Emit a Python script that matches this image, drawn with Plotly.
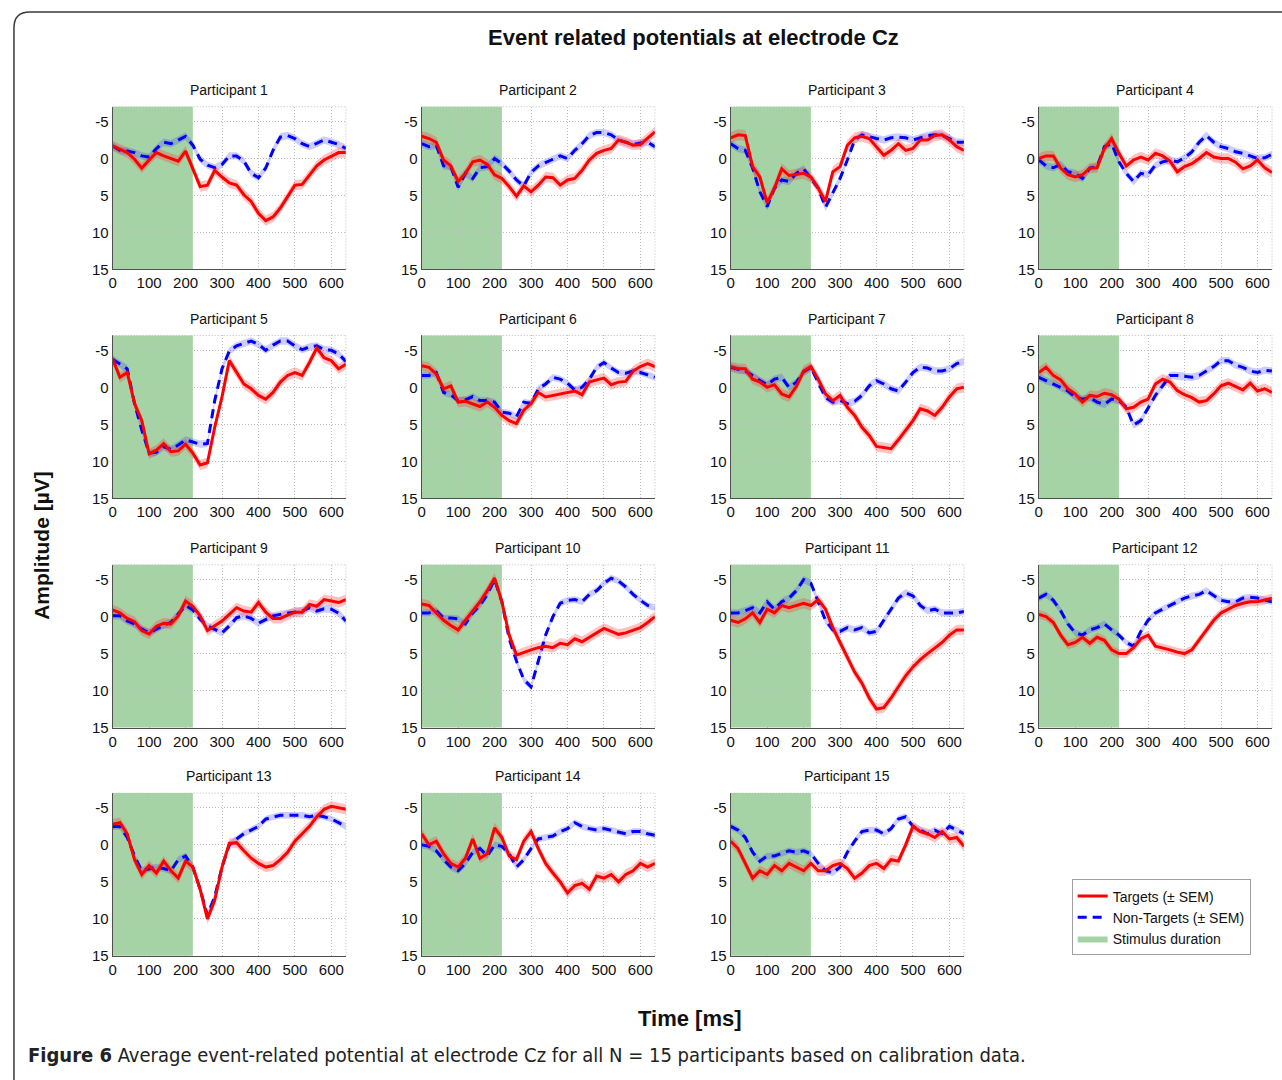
import plotly.graph_objects as go

# ---------------------------------------------------------------- data
time_ms = list(range(0, 641, 20))

p1_targets = [-1.7, -1.25, -0.8, 0.1, 1.3, 0.2, -0.8, -0.35, 0.0, 0.35, -1.0, 1.3, 3.8, 3.6, 1.6, 2.5, 3.3,
              3.6, 4.9, 5.8, 7.4, 8.4, 7.9, 6.7, 5.1, 3.6, 3.5, 2.2, 1.0, 0.2, -0.35, -0.8, -0.8]
p1_nontargets = [-1.7, -1.1, -1.0, -0.8, -0.35, -0.2, -1.35, -2.2, -2.0, -2.5, -3.0, -1.8, 0.1, 0.9, 1.25, 0.8, -0.35,
                 -0.35, 0.35, 2.0, 2.6, 1.3, -1.1, -2.9, -3.1, -2.7, -2.0, -1.6, -2.0, -2.5, -2.2, -1.9, -1.35]

p2_targets = [-3.0, -2.7, -2.2, 0.2, 1.0, 3.1, 2.0, 0.45, 0.2, 0.8, 2.2, 2.7, 3.8, 5.1, 3.7, 4.5, 3.6,
              2.5, 2.6, 3.6, 2.9, 2.7, 1.6, 0.2, -0.7, -1.1, -1.35, -2.5, -2.2, -1.8, -1.9, -2.8, -3.6]
p2_nontargets = [-2.0, -1.6, -1.8, 1.0, 1.1, 3.9, 2.0, 2.7, 1.25, 1.1, 0.0, 0.7, 1.7, 2.9, 3.7, 1.9, 1.0,
                 0.5, 0.1, -0.35, 0.0, -1.1, -2.0, -3.1, -3.5, -3.5, -3.2, -2.5, -2.2, -1.9, -2.1, -2.2, -1.6]

p3_targets = [-2.8, -3.2, -3.1, 1.1, 2.5, 6.0, 4.0, 1.4, 2.3, 2.1, 2.0, 2.5, 4.0, 5.8, 1.8, 1.1, -1.8,
              -2.8, -3.0, -2.7, -1.6, -0.45, -1.1, -2.0, -1.1, -1.35, -2.5, -2.5, -3.1, -3.2, -2.5, -1.6, -1.1]
p3_nontargets = [-2.0, -1.35, -1.1, 1.3, 4.5, 6.5, 4.0, 2.9, 3.1, 2.0, 1.4, 2.7, 4.0, 6.6, 4.7, 2.7, 0.2,
                 -2.5, -3.2, -2.9, -2.7, -2.5, -2.8, -2.9, -2.8, -2.5, -2.8, -3.1, -3.2, -3.1, -2.7, -2.2, -2.2]

p4_targets = [0.0, -0.35, -0.35, 1.3, 2.2, 2.5, 2.2, 1.3, 1.25, -1.35, -2.7, -0.7, 1.0, 0.2, -0.2, 0.2, -0.7,
              -0.35, 0.35, 1.8, 1.1, 0.7, 0.0, -0.8, -0.2, 0.0, 0.0, 0.5, 1.4, 1.0, 0.2, 1.25, 1.9]
p4_nontargets = [0.2, 1.0, 1.25, 0.8, 1.8, 2.0, 2.7, 1.3, 1.1, -1.6, -2.0, 0.45, 2.0, 3.1, 2.0, 2.2, 0.9,
                 0.45, 0.2, 0.45, -0.1, -0.9, -2.2, -3.1, -2.2, -1.6, -1.35, -0.9, -0.7, -0.35, 0.0, -0.1, -0.55]

p5_targets = [-3.8, -1.35, -2.0, 2.2, 4.5, 9.0, 8.5, 7.6, 8.7, 8.6, 7.7, 8.9, 10.5, 10.2, 5.4, 1.3, -3.6,
              -2.0, -0.45, 0.2, 1.1, 1.6, 0.7, -0.7, -1.6, -2.0, -1.6, -3.35, -5.3, -4.0, -3.6, -2.5, -3.1]
p5_nontargets = [-3.8, -3.1, -2.5, 2.2, 5.8, 8.9, 8.8, 8.0, 8.4, 7.8, 7.1, 7.4, 7.7, 7.6, 1.8, -2.5, -4.9,
                 -5.6, -5.9, -6.25, -5.8, -5.0, -5.7, -6.25, -6.25, -5.6, -5.1, -5.45, -5.6, -5.1, -5.0, -4.5, -3.5]

p6_targets = [-2.9, -2.7, -1.8, 0.2, -0.2, 2.0, 1.9, 2.2, 2.6, 2.0, 2.7, 3.8, 4.5, 4.9, 3.1, 2.2, 0.7,
              1.3, 1.1, 0.9, 0.7, 0.5, 1.0, -0.7, -1.0, -1.25, -0.35, -0.7, -0.8, -2.2, -2.8, -3.2, -2.8]
p6_nontargets = [-1.6, -1.6, -2.0, 0.7, 1.0, 1.8, 1.7, 1.25, 1.8, 1.8, 2.0, 3.35, 3.5, 4.0, 2.0, 2.2, 0.2,
                 -0.45, -1.35, -1.1, -0.55, 0.35, 0.0, -1.1, -2.7, -3.35, -2.6, -2.0, -1.9, -2.2, -2.0, -1.7, -1.35]

p7_targets = [-2.8, -2.5, -2.5, -1.1, -0.7, 0.0, -0.35, 0.9, 1.3, -0.1, -2.2, -2.8, -1.1, 0.9, 1.8, 1.1, 2.7,
              3.8, 5.4, 6.5, 8.0, 8.1, 8.3, 7.1, 5.8, 4.5, 2.9, 3.2, 3.8, 2.7, 1.3, 0.2, 0.0]
p7_nontargets = [-2.7, -2.5, -2.2, -1.6, -0.9, -0.35, -1.1, -1.35, 0.0, -0.7, -2.1, -2.7, -0.7, 1.4, 2.0, 1.8, 2.2,
                 1.9, 1.1, -0.2, -0.9, -0.45, 0.2, 0.5, -0.7, -2.0, -2.7, -2.6, -2.2, -2.2, -2.5, -3.2, -3.5]

p8_targets = [-2.0, -2.7, -1.6, -1.0, 0.2, 0.9, 2.0, 1.1, 1.25, 0.8, 1.0, 1.6, 2.9, 2.7, 2.0, 1.6, -0.45,
              -1.1, -0.7, 0.45, 1.0, 1.4, 2.0, 1.8, 0.9, -0.2, -0.55, -0.1, 0.35, -0.55, 0.5, 0.2, 0.7]
p8_nontargets = [-1.35, -0.9, -0.55, 0.0, 0.5, 1.3, 1.6, 1.4, 2.0, 2.3, 1.6, 1.8, 2.7, 5.1, 4.5, 2.7, 1.1,
                 -0.2, -1.6, -1.6, -1.45, -1.35, -1.6, -2.2, -2.8, -3.6, -3.6, -3.0, -2.7, -2.2, -2.0, -2.3, -2.2]

p9_targets = [-0.9, -0.5, 0.25, 0.7, 1.9, 2.35, 1.3, 0.9, 1.0, -0.1, -2.1, -1.4, -0.1, 1.9, 1.25, 0.6, -0.3,
              -1.2, -0.75, -0.6, -1.9, -0.6, 0.25, 0.25, -0.2, -0.6, -0.6, -1.65, -1.4, -2.3, -2.1, -1.9, -2.3]
p9_nontargets = [-0.1, -0.1, 0.6, 1.0, 1.7, 2.2, 1.7, 1.15, 0.8, -0.3, -1.5, -0.9, 0.35, 1.25, 1.7, 2.2, 1.25,
                 0.15, -0.1, 0.25, 0.9, 0.35, -0.1, -0.3, -0.45, -0.6, -0.75, -1.2, -0.75, -1.05, -1.0, -0.45, 0.6]

p10_targets = [-1.7, -1.5, -0.5, 0.5, 1.2, 1.8, 0.5, -0.8, -2.0, -3.5, -5.2, -2.0, 2.5, 5.2, 4.8, 4.5, 4.2,
               4.0, 4.2, 3.6, 3.8, 3.0, 3.4, 2.8, 2.2, 1.6, 2.0, 2.4, 2.2, 1.8, 1.5, 0.8, 0.0]
p10_nontargets = [-0.5, -0.5, -0.8, 0.2, 0.2, 0.3, 1.0, -0.5, -1.5, -3.0, -5.0, -2.0, 3.0, 6.0, 8.5, 9.5, 6.0,
                  2.5, 0.0, -1.8, -2.2, -2.3, -2.0, -3.0, -3.5, -4.5, -5.2, -4.8, -4.0, -3.0, -2.2, -1.5, -1.2]

p11_targets = [0.5, 0.8, 0.3, -0.5, 0.8, -1.0, -0.5, -1.5, -1.2, -1.5, -1.8, -1.5, -2.3, -1.0, 1.5, 3.5, 5.5,
               7.5, 9.0, 11.0, 12.5, 12.3, 11.0, 9.5, 8.0, 6.8, 5.8, 5.0, 4.3, 3.5, 2.5, 1.8, 1.8]
p11_nontargets = [-0.5, -0.5, -0.8, -1.2, -0.5, -2.0, -1.0, -2.0, -2.5, -3.5, -5.0, -4.5, -2.0, 0.5, 1.8, 2.0, 1.5,
                  1.8, 1.5, 2.2, 2.0, 0.5, -1.0, -2.5, -3.2, -2.8, -1.5, -0.8, -1.0, -0.5, -0.5, -0.5, -0.7]

p12_targets = [-0.3, 0.0, 0.8, 2.5, 3.8, 3.5, 2.8, 3.6, 2.8, 3.2, 4.5, 5.0, 5.0, 4.2, 3.0, 2.5, 4.0,
               4.2, 4.5, 4.8, 5.0, 4.5, 3.2, 1.8, 0.5, -0.5, -1.0, -1.5, -1.8, -2.0, -2.0, -2.3, -2.5]
p12_nontargets = [-2.5, -3.0, -2.2, -0.8, 1.0, 2.2, 2.5, 1.8, 1.5, 1.0, 1.8, 2.5, 3.5, 4.0, 2.0, 0.5, -0.5,
                  -1.0, -1.5, -2.0, -2.5, -2.8, -3.0, -3.5, -2.8, -2.2, -2.0, -2.0, -2.5, -2.6, -2.5, -2.2, -2.0]

p13_targets = [-2.8, -3.0, -1.5, 2.0, 4.0, 2.8, 3.8, 2.2, 3.5, 4.5, 2.2, 3.0, 6.0, 10.0, 7.5, 3.0, -0.2,
               -0.3, 0.8, 1.8, 2.5, 3.0, 2.8, 2.0, 1.0, -0.5, -1.5, -2.5, -3.8, -4.8, -5.2, -5.0, -4.8]
p13_nontargets = [-2.5, -2.5, -1.0, 1.5, 3.5, 3.2, 3.0, 3.2, 3.5, 2.0, 1.5, 3.0, 6.0, 9.5, 7.0, 3.0, 0.0,
                  -0.8, -1.5, -2.0, -2.5, -3.5, -3.8, -4.0, -4.0, -4.0, -4.0, -3.8, -4.0, -3.8, -3.5, -3.0, -2.5]

p14_targets = [-1.5, 0.0, -0.5, 1.2, 2.5, 3.0, 1.8, -0.8, 1.8, 1.2, -2.3, -1.0, 1.5, 2.0, -0.5, -1.8, 0.5,
               2.5, 3.8, 5.0, 6.5, 5.5, 5.2, 6.0, 4.2, 4.5, 4.0, 5.0, 4.0, 3.5, 2.5, 3.0, 2.5]
p14_nontargets = [0.0, 0.2, 0.8, 2.0, 3.0, 3.5, 2.5, 1.0, 0.5, 1.5, 0.0, 0.2, 1.2, 3.0, 2.0, 0.5, -0.8,
                  -1.0, -1.2, -1.8, -2.2, -3.0, -2.5, -2.2, -2.0, -2.2, -2.0, -1.8, -1.5, -1.8, -1.8, -1.5, -1.3]

p15_targets = [-0.5, 0.5, 2.5, 4.5, 3.5, 4.0, 2.8, 3.5, 2.5, 3.0, 3.5, 2.5, 3.5, 3.5, 2.8, 2.5, 3.2,
               4.5, 3.8, 2.8, 2.5, 3.2, 2.0, 2.2, 0.0, -2.5, -1.8, -1.5, -1.0, -1.8, -0.8, -1.0, 0.2]
p15_nontargets = [-2.5, -2.0, -1.0, 1.0, 2.2, 1.5, 1.5, 1.2, 0.8, 1.0, 0.8, 1.2, 2.5, 3.5, 3.8, 3.0, 1.0,
                  -0.5, -1.8, -2.0, -2.0, -1.5, -2.2, -3.5, -3.8, -2.5, -2.0, -1.5, -2.0, -1.5, -2.5, -2.0, -1.5]

# standard error of the mean per participant (µV)
sem_targets = [0.7, 0.7, 0.75, 0.7, 0.7, 0.7, 0.7, 0.7, 0.7, 0.7, 0.7, 0.6, 0.7, 0.7, 0.7]
sem_nontargets = [0.5, 0.5, 0.5, 0.5, 0.5, 0.45, 0.5, 0.5, 0.5, 0.45, 0.5, 0.45, 0.45, 0.45, 0.45]

participants = [f"Participant {i}" for i in range(1, 16)]
targets = [p1_targets, p2_targets, p3_targets, p4_targets, p5_targets, p6_targets, p7_targets, p8_targets,
           p9_targets, p10_targets, p11_targets, p12_targets, p13_targets, p14_targets, p15_targets]
nontargets = [p1_nontargets, p2_nontargets, p3_nontargets, p4_nontargets, p5_nontargets, p6_nontargets,
              p7_nontargets, p8_nontargets, p9_nontargets, p10_nontargets, p11_nontargets, p12_nontargets,
              p13_nontargets, p14_nontargets, p15_nontargets]

stimulus_end_ms = 220
x_ticks = [0, 100, 200, 300, 400, 500, 600]
y_ticks = [-5, 0, 5, 10, 15]
y_tick_labels = ["-5", "0", "5", "10", "15"]
y_range = [15, -7]
x_range = [0, 640]

# ---------------------------------------------------------------- layout geometry
W, H = 1282, 1080
col_left = [109, 419, 729, 1038]
row_top = [107.5, 338, 569, 799]
plot_w, plot_h = 234, 164

RED = "rgb(255,0,0)"
BLUE = "rgb(0,0,255)"
RED_BAND = "rgba(255,50,50,0.3)"
BLUE_BAND = "rgba(50,50,255,0.25)"
GREEN = "rgb(166,211,166)"
GRID = "#bdbdbd"
FONT = "Liberation Sans, Arial, sans-serif"


def px_x(x):
    return x / W


def px_y(y):
    return 1 - y / H


fig = go.Figure()
layout = {}
shapes = []
annotations = []

for i, name in enumerate(participants):
    r, c = divmod(i, 4)
    idx = i + 1
    xa = "x" if idx == 1 else f"x{idx}"
    ya = "y" if idx == 1 else f"y{idx}"
    xkey = "xaxis" if idx == 1 else f"xaxis{idx}"
    ykey = "yaxis" if idx == 1 else f"yaxis{idx}"
    x0, y0 = col_left[c], row_top[r]
    layout[xkey] = dict(
        domain=[px_x(x0), px_x(x0 + plot_w)], anchor=ya, range=x_range,
        tickvals=x_ticks, ticks="", showgrid=True, gridcolor=GRID, griddash="1px,2px", gridwidth=1,
        showline=True, linecolor="#505050", linewidth=1, zeroline=False,
        tickfont=dict(family=FONT, size=15, color="#111"),
    )
    layout[ykey] = dict(
        domain=[px_y(y0 + plot_h), px_y(y0)], anchor=xa, range=y_range,
        tickvals=y_ticks, ticktext=y_tick_labels, ticks="", showgrid=True, gridcolor=GRID,
        griddash="1px,2px", gridwidth=1,
        showline=True, linecolor="#505050", linewidth=1, zeroline=False,
        tickfont=dict(family=FONT, size=15, color="#111"),
    )

    # stimulus duration patch
    shapes.append(dict(type="rect", xref=xa, yref=f"{ya} domain", x0=0, x1=stimulus_end_ms, y0=0, y1=1,
                       fillcolor=GREEN, line=dict(width=0), layer="below"))
    # dotted top and right frame
    shapes.append(dict(type="line", xref=f"{xa} domain", yref=f"{ya} domain", x0=0, x1=1, y0=1, y1=1,
                       line=dict(color=GRID, width=1, dash="1px,2px")))
    shapes.append(dict(type="line", xref=f"{xa} domain", yref=f"{ya} domain", x0=1, x1=1, y0=0, y1=1,
                       line=dict(color=GRID, width=1, dash="1px,2px")))

    annotations.append(dict(text=name, xref="paper", yref="paper", x=px_x(x0 + plot_w / 2),
                            y=px_y(y0 - 17), xanchor="center", yanchor="middle", showarrow=False,
                            font=dict(family=FONT, size=14, color="#111")))

    tgt, ntg = targets[i], nontargets[i]
    st, sn = sem_targets[i], sem_nontargets[i]
    band_x = time_ms + time_ms[::-1]
    fig.add_trace(go.Scatter(
        x=band_x, y=[v - sn for v in ntg] + [v + sn for v in ntg[::-1]],
        fill="toself", fillcolor=BLUE_BAND, line=dict(width=0), mode="lines",
        hoverinfo="skip", showlegend=False, xaxis=xa, yaxis=ya))
    fig.add_trace(go.Scatter(
        x=band_x, y=[v - st for v in tgt] + [v + st for v in tgt[::-1]],
        fill="toself", fillcolor=RED_BAND, line=dict(width=0), mode="lines",
        hoverinfo="skip", showlegend=False, xaxis=xa, yaxis=ya))
    fig.add_trace(go.Scatter(
        x=time_ms, y=ntg, mode="lines", line=dict(color=BLUE, width=3, dash="9px,6px"),
        name="Non-Targets (± SEM)", legendgroup="nt", legendrank=2, showlegend=(i == 0),
        xaxis=xa, yaxis=ya))
    fig.add_trace(go.Scatter(
        x=time_ms, y=tgt, mode="lines", line=dict(color=RED, width=3),
        name="Targets (± SEM)", legendgroup="t", legendrank=1, showlegend=(i == 0),
        xaxis=xa, yaxis=ya))

# legend entry for the stimulus patch
fig.add_trace(go.Scatter(x=[None], y=[None], mode="lines", fill="toself", fillcolor=GREEN,
                         line=dict(width=0, color=GREEN), name="Stimulus duration", legendrank=3,
                         xaxis="x", yaxis="y"))

# outer frame with rounded top-left corner
rx, ry = 16 / W, 16 / H
fx0, fy0 = px_x(10), px_y(12)
shapes.append(dict(type="path", xref="paper", yref="paper",
                   path=f"M {fx0},-0.02 L {fx0},{fy0 - ry} Q {fx0},{fy0} {fx0 + rx},{fy0} L 1.02,{fy0}",
                   line=dict(color="#3a3a3a", width=1.5)))

annotations += [
    dict(text="<b>Event related potentials at electrode Cz</b>", xref="paper", yref="paper",
         x=px_x(692), y=px_y(38), xanchor="center", yanchor="middle", showarrow=False,
         font=dict(family=FONT, size=22, color="#111")),
    dict(text="<b>Amplitude [µV]</b>", xref="paper", yref="paper", x=px_x(38), y=px_y(549),
         xanchor="center", yanchor="middle", textangle=-90, showarrow=False,
         font=dict(family=FONT, size=21, color="#111")),
    dict(text="<b>Time [ms]</b>", xref="paper", yref="paper", x=px_x(688), y=px_y(1026),
         xanchor="center", yanchor="middle", showarrow=False,
         font=dict(family=FONT, size=22, color="#111")),
    dict(text="<b>Figure 6</b> Average event-related potential at electrode Cz for all N = 15 participants "
              "based on calibration data.",
         xref="paper", yref="paper", x=px_x(22), y=px_y(1063), xanchor="left", yanchor="middle",
         showarrow=False, font=dict(family="DejaVu Sans Condensed, Noto Sans, sans-serif", size=20,
                                    color="#222")),
]

fig.update_layout(
    **layout,
    width=W, height=H,
    margin=dict(l=0, r=0, t=0, b=0),
    paper_bgcolor="white", plot_bgcolor="white",
    shapes=shapes, annotations=annotations,
    legend=dict(x=px_x(1071), y=px_y(886), xanchor="left", yanchor="top",
                bordercolor="#a0a0a0", borderwidth=1, bgcolor="white",
                font=dict(family=FONT, size=14, color="#111"), itemwidth=30,
                tracegroupgap=0),
    showlegend=True,
)

fig.write_html("out.html")
